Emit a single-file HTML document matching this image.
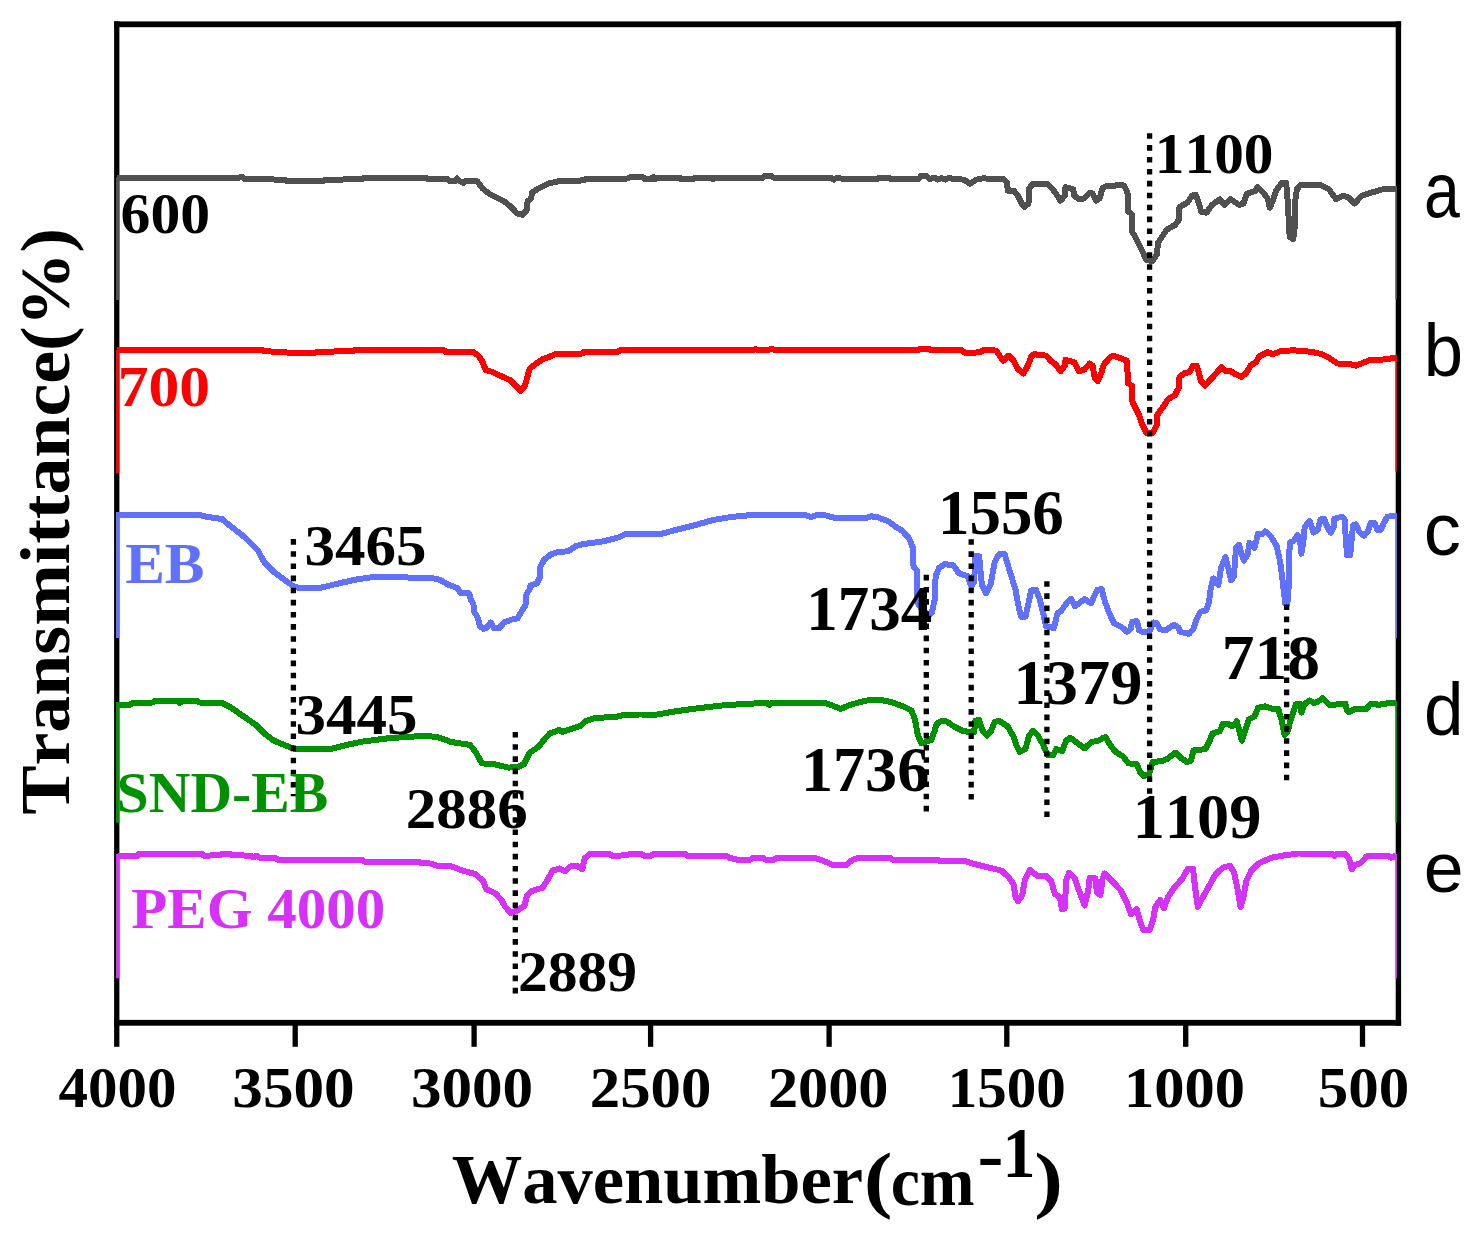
<!DOCTYPE html>
<html><head><meta charset="utf-8"><title>FTIR spectra</title>
<style>html,body{margin:0;padding:0;background:#fff}svg{display:block}text{white-space:pre;font-kerning:none}</style></head>
<body>
<svg width="1474" height="1236" viewBox="0 0 1474 1236">
<rect width="1474" height="1236" fill="#fff"/>
<g fill="#000">
<rect x="114.1" y="21.4" width="5.3" height="1025.4"/>
<rect x="114.1" y="21.4" width="1287" height="5.8"/>
<rect x="1395.7" y="21.4" width="5.4" height="1004.3"/>
<rect x="114.1" y="1019.9" width="1287" height="5.8"/>
<rect x="292.55" y="1024" width="5.3" height="22.8"/>
<rect x="471.45" y="1024" width="5.3" height="22.8"/>
<rect x="647.95" y="1024" width="5.3" height="22.8"/>
<rect x="826.45" y="1024" width="5.3" height="22.8"/>
<rect x="1004.15" y="1024" width="5.3" height="22.8"/>
<rect x="1183.05" y="1024" width="5.3" height="22.8"/>
<rect x="1359.85" y="1024" width="5.3" height="22.8"/>
</g>
<defs><clipPath id="plot"><rect x="116" y="27" width="1281.2" height="993"/></clipPath></defs>
<g clip-path="url(#plot)">
<rect x="116" y="177.5" width="3.4" height="122.5" fill="#505050"/>
<rect x="1395.4" y="186.0" width="1.8" height="113.4" fill="#505050"/>
<path d="M117.0 177.5 L239.8 177.5 L242.0 176.8 L244.3 179.0 L284.6 179.7 L286.9 181.3 L322.7 181.3 L324.9 179.7 L361.8 179.3 L364.1 177.5 L425.6 177.5 L427.9 179.0 L430.0 179.2 L447.8 179.2 L449.9 181.4 L454.9 181.4 L457.1 178.5 L459.9 181.4 L463.5 182.8 L465.6 181.1 L477.0 181.1 L482.7 188.5 L489.8 194.2 L504.1 201.3 L511.2 207.0 L516.9 213.4 L522.6 214.9 L526.9 209.9 L527.6 201.3 L531.2 198.5 L531.9 192.8 L538.3 188.5 L548.3 183.5 L558.2 181.4 L583.2 180.4 L585.3 179.2 L628.0 178.5 L630.9 176.8 L640.0 176.8 L643.8 177.6 L645.0 179.1 L651.3 179.1 L653.1 177.1 L655.1 179.1 L658.9 177.6 L680.2 178.1 L681.5 179.3 L692.7 179.3 L695.3 177.6 L710.3 177.6 L712.8 179.3 L715.3 177.6 L763.0 177.6 L765.5 175.6 L770.6 175.6 L773.1 177.6 L830.8 177.6 L833.8 179.6 L837.1 177.6 L843.4 179.1 L877.2 179.1 L879.7 177.6 L888.5 177.6 L891.0 179.1 L918.7 179.1 L921.2 175.6 L926.2 175.6 L929.9 179.1 L935.0 177.6 L937.5 179.6 L941.2 178.1 L945.8 179.6 L948.8 177.6 L953.8 179.1 L963.8 179.6 L970.1 183.8 L976.4 179.6 L983.9 178.1 L990.0 179.2 L1003.5 179.2 L1007.1 182.8 L1007.8 190.6 L1013.5 190.6 L1017.8 195.6 L1022.1 204.2 L1024.2 207.0 L1028.5 203.5 L1029.2 188.5 L1032.7 183.5 L1047.0 183.5 L1052.7 189.2 L1056.3 194.2 L1060.5 200.6 L1064.8 195.6 L1065.5 187.1 L1073.3 189.2 L1074.1 195.6 L1079.0 199.2 L1084.0 198.5 L1089.7 192.8 L1092.6 193.5 L1096.1 200.6 L1099.7 198.5 L1102.6 187.8 L1108.3 185.6 L1123.9 185.4 L1127.5 192.8 L1128.2 211.3 L1131.8 214.1 L1131.8 231.2 L1135.3 236.9 L1138.9 244.1 L1142.4 251.2 L1146.0 259.7 L1152.4 261.2 L1156.7 254.7 L1158.1 242.6 L1162.4 236.2 L1166.7 229.8 L1175.2 224.8 L1178.8 219.8 L1179.5 207.0 L1187.3 202.7 L1192.3 195.6 L1195.9 194.9 L1197.8 199.9 L1201.4 212.0 L1206.4 212.7 L1212.1 204.9 L1219.9 199.2 L1224.2 204.9 L1230.6 199.2 L1239.2 204.9 L1243.4 203.5 L1247.0 193.5 L1254.8 191.3 L1257.7 187.1 L1263.4 192.8 L1267.7 198.5 L1269.8 207.7 L1272.6 201.3 L1276.2 190.6 L1281.9 182.8 L1286.2 182.8 L1287.6 199.9 L1289.7 236.9 L1293.3 239.1 L1294.7 227.0 L1295.4 199.9 L1296.9 189.2 L1300.4 184.9 L1320.4 184.9 L1328.9 189.2 L1333.9 196.3 L1336.0 199.2 L1343.2 195.6 L1348.9 197.8 L1354.6 203.5 L1361.7 195.6 L1373.1 192.1 L1383.1 189.2 L1396.0 189.2" fill="none" stroke="#505050" stroke-width="6" stroke-linejoin="round" stroke-linecap="butt" shape-rendering="crispEdges"/>
<rect x="116" y="350.0" width="3.4" height="123.0" fill="#ff0000"/>
<rect x="1395.4" y="355.0" width="1.8" height="116.6" fill="#ff0000"/>
<path d="M117.0 349.7 L262.2 349.7 L264.5 351.3 L284.6 351.9 L289.1 353.0 L314.8 353.0 L317.1 351.7 L352.9 351.3 L355.1 349.7 L430.0 350.0 L444.2 350.4 L445.7 352.1 L473.5 352.1 L478.4 355.7 L482.7 362.1 L485.6 369.9 L492.7 372.0 L499.8 375.6 L509.8 379.9 L515.5 385.6 L520.5 390.6 L524.7 386.3 L527.6 376.3 L529.7 368.5 L535.4 364.2 L542.6 359.2 L551.1 356.1 L555.4 354.2 L582.4 353.5 L583.9 352.1 L618.1 351.8 L620.2 350.0 L640.0 350.0 L753.0 350.1 L755.5 349.0 L758.0 350.1 L768.0 350.1 L771.8 348.6 L775.0 350.1 L918.0 350.1 L920.0 348.6 L929.0 348.6 L931.0 350.1 L962.0 350.4 L965.0 352.8 L980.0 352.4 L983.0 350.4 L990.0 350.0 L996.4 350.7 L1000.0 356.4 L1003.5 360.6 L1008.5 355.7 L1013.5 360.6 L1017.8 369.2 L1023.5 373.5 L1027.8 365.6 L1031.3 356.4 L1034.2 354.2 L1046.3 355.7 L1051.3 361.4 L1055.5 364.2 L1060.5 371.3 L1064.8 365.6 L1065.5 359.9 L1074.1 362.1 L1079.0 371.3 L1084.0 369.9 L1089.7 363.5 L1092.6 365.6 L1094.7 377.7 L1097.6 381.3 L1101.1 373.5 L1104.0 364.2 L1111.1 356.4 L1115.4 356.4 L1126.8 360.6 L1128.2 383.4 L1131.8 385.6 L1132.5 402.0 L1138.9 414.8 L1142.4 424.8 L1146.7 433.3 L1153.1 432.6 L1156.7 424.8 L1157.4 414.8 L1164.5 404.8 L1168.1 399.1 L1175.2 394.8 L1178.8 387.7 L1179.5 377.0 L1183.8 373.5 L1189.5 372.0 L1193.0 365.6 L1196.6 365.6 L1198.6 372.0 L1200.7 380.6 L1205.0 385.6 L1213.5 376.3 L1221.4 367.1 L1225.6 371.3 L1229.9 370.6 L1234.2 373.5 L1241.3 377.0 L1246.3 372.8 L1250.6 365.6 L1256.3 362.1 L1259.1 356.4 L1267.7 352.1 L1272.6 354.2 L1281.9 350.7 L1294.7 350.4 L1311.8 351.8 L1321.8 354.2 L1328.9 357.8 L1337.5 363.5 L1350.3 364.2 L1356.0 365.6 L1363.1 362.8 L1370.2 359.9 L1383.1 359.5 L1396.0 357.8" fill="none" stroke="#ff0000" stroke-width="6" stroke-linejoin="round" stroke-linecap="butt" shape-rendering="crispEdges"/>
<rect x="116" y="514.8" width="3.4" height="123.2" fill="#6070ff"/>
<rect x="1395.4" y="513.0" width="1.8" height="125.0" fill="#6070ff"/>
<path d="M116.0 514.6 L150.3 514.6 L199.5 514.8 L206.3 516.8 L221.9 519.0 L228.6 524.6 L244.3 536.9 L257.8 550.4 L264.5 562.7 L273.4 571.6 L286.9 581.7 L293.6 586.2 L300.3 588.4 L318.2 588.4 L336.1 584.0 L356.3 579.5 L371.9 577.2 L430.0 577.7 L440.0 579.8 L448.5 584.8 L457.8 588.3 L460.6 593.3 L469.2 593.3 L470.6 599.0 L473.5 604.7 L474.2 611.9 L477.7 617.6 L479.9 626.1 L483.4 629.0 L487.0 627.5 L490.6 622.5 L494.1 628.2 L499.1 628.2 L504.1 622.5 L511.2 619.7 L517.6 618.3 L521.2 611.9 L525.5 605.4 L526.2 594.8 L529.7 589.1 L530.4 585.5 L536.9 583.4 L539.7 577.7 L540.4 567.0 L544.0 559.9 L551.1 554.2 L558.2 552.0 L568.2 551.3 L575.3 546.3 L582.4 544.2 L603.8 541.3 L619.5 537.1 L625.2 534.2 L640.0 534.2 L661.4 533.9 L675.2 530.1 L695.3 525.1 L712.8 520.1 L730.4 517.1 L750.5 515.1 L805.7 515.1 L810.7 517.1 L817.0 515.1 L824.5 515.1 L835.8 518.1 L865.9 518.1 L871.0 516.3 L877.2 517.1 L888.5 521.4 L895.0 526.4 L902.1 530.6 L909.2 538.5 L912.8 547.7 L913.5 566.3 L917.1 571.2 L917.1 601.9 L922.0 610.0 L929.2 614.7 L932.0 611.9 L934.9 599.0 L935.6 576.2 L939.2 567.7 L944.9 564.1 L953.4 565.5 L959.1 573.4 L967.7 576.2 L971.2 586.2 L974.1 581.9 L975.5 556.3 L979.1 556.3 L981.9 584.8 L986.2 593.3 L990.5 584.8 L994.7 562.0 L999.0 554.2 L1004.7 554.2 L1008.3 566.3 L1011.8 577.7 L1015.4 589.1 L1018.2 604.7 L1021.1 616.8 L1025.4 616.8 L1028.2 604.7 L1031.1 590.5 L1036.0 589.8 L1039.6 599.0 L1043.2 613.3 L1046.0 626.1 L1053.9 628.2 L1057.4 613.3 L1061.0 611.1 L1067.4 601.9 L1071.0 599.0 L1075.2 606.2 L1084.5 599.0 L1090.9 603.3 L1097.3 589.8 L1101.6 589.1 L1105.0 601.9 L1109.3 613.3 L1114.2 623.3 L1121.4 626.8 L1127.1 631.8 L1130.6 629.0 L1132.1 621.8 L1137.0 621.1 L1139.2 630.4 L1144.2 632.5 L1149.2 631.8 L1153.4 622.5 L1157.0 623.3 L1159.8 629.0 L1165.5 630.4 L1174.1 624.7 L1178.4 627.5 L1179.8 631.8 L1189.0 633.9 L1193.3 629.0 L1196.2 620.4 L1200.4 611.9 L1206.1 610.4 L1209.0 601.9 L1210.4 590.5 L1213.3 578.4 L1218.3 584.8 L1221.1 567.7 L1225.4 557.0 L1228.2 567.7 L1231.1 580.5 L1233.9 576.2 L1236.1 547.7 L1238.9 544.9 L1243.9 560.6 L1247.5 554.9 L1249.6 542.8 L1254.6 547.7 L1258.1 533.5 L1262.4 534.2 L1265.3 531.4 L1270.3 535.6 L1276.7 546.3 L1280.2 562.0 L1282.4 579.1 L1285.2 603.3 L1287.4 603.3 L1288.8 584.8 L1289.0 554.9 L1290.2 542.3 L1294.1 540.7 L1297.3 535.0 L1299.8 538.3 L1301.4 553.7 L1303.4 540.7 L1304.7 526.9 L1309.5 520.8 L1313.6 532.6 L1317.7 530.1 L1320.5 519.5 L1324.2 519.1 L1327.9 528.5 L1330.7 532.6 L1334.0 526.1 L1334.4 518.7 L1342.1 516.7 L1344.5 518.7 L1345.4 532.6 L1347.0 555.4 L1350.2 555.4 L1351.9 536.6 L1353.1 525.2 L1355.9 524.4 L1359.2 531.8 L1364.1 535.8 L1368.2 530.9 L1370.6 522.8 L1374.7 523.2 L1377.5 530.1 L1380.4 530.1 L1384.4 522.0 L1387.3 516.7 L1396.0 515.9" fill="none" stroke="#6070ff" stroke-width="6" stroke-linejoin="round" stroke-linecap="butt" shape-rendering="crispEdges"/>
<rect x="116" y="704.8" width="3.4" height="117.9" fill="#009100"/>
<rect x="1395.4" y="701.0" width="1.8" height="121.7" fill="#009100"/>
<path d="M116.0 705.2 L130.1 704.8 L132.4 703.0 L152.5 702.5 L154.8 701.2 L178.3 701.2 L179.8 703.0 L181.6 701.2 L197.3 701.2 L199.5 702.5 L221.9 703.0 L230.9 707.5 L244.3 716.9 L255.5 724.7 L264.5 733.7 L273.4 740.4 L286.9 746.0 L295.8 749.3 L329.4 749.3 L347.3 744.8 L363.0 741.5 L389.8 738.1 L423.4 735.9 L430.0 736.3 L437.1 737.0 L451.4 742.0 L469.9 744.9 L475.6 752.0 L482.0 763.4 L494.1 764.1 L508.4 767.6 L518.3 766.9 L524.0 764.1 L529.7 752.7 L538.3 747.0 L544.0 739.9 L549.7 733.5 L559.6 729.9 L562.5 732.0 L581.0 725.6 L585.3 721.3 L595.3 717.8 L615.2 717.1 L623.8 714.9 L640.0 714.5 L656.4 714.6 L675.2 711.4 L692.7 708.9 L725.4 705.1 L758.0 703.3 L766.8 702.6 L769.3 705.1 L771.8 703.1 L825.8 703.1 L833.3 705.9 L840.8 708.9 L850.9 704.6 L865.9 700.6 L879.7 699.6 L891.0 702.1 L895.0 703.5 L903.5 706.4 L911.4 710.6 L914.9 719.2 L917.8 734.9 L921.4 743.4 L925.6 742.0 L931.3 739.9 L934.2 732.0 L937.0 723.5 L942.0 720.6 L946.3 721.3 L954.8 727.0 L962.0 730.6 L969.1 732.0 L974.1 732.0 L975.5 720.6 L979.1 719.9 L982.6 730.6 L986.9 735.6 L991.2 730.6 L994.7 722.0 L999.0 720.6 L1007.6 726.3 L1013.3 736.3 L1016.8 746.3 L1019.7 752.0 L1025.4 749.1 L1028.9 736.3 L1033.2 730.6 L1037.5 734.9 L1043.2 744.8 L1047.4 754.8 L1053.1 755.5 L1056.0 749.1 L1062.4 751.2 L1066.0 740.6 L1070.2 737.7 L1075.9 742.0 L1084.5 748.4 L1091.6 742.0 L1098.7 740.6 L1102.0 738.5 L1105.7 737.0 L1110.0 744.8 L1115.7 752.0 L1122.8 756.2 L1128.5 763.4 L1137.0 764.1 L1139.9 771.9 L1144.2 776.2 L1149.2 774.0 L1152.7 761.9 L1161.3 761.2 L1167.0 759.1 L1175.5 752.7 L1180.5 757.7 L1186.9 761.9 L1191.2 760.5 L1193.3 750.5 L1199.7 749.8 L1205.4 749.1 L1209.7 740.6 L1212.6 733.4 L1219.7 731.3 L1223.2 723.5 L1228.2 724.2 L1232.5 726.3 L1236.8 721.3 L1239.6 732.0 L1241.8 740.6 L1244.6 732.0 L1248.9 719.2 L1254.6 716.3 L1258.1 707.8 L1265.3 706.4 L1271.0 708.5 L1278.1 708.5 L1281.7 720.6 L1284.5 734.9 L1288.1 730.6 L1290.0 722.0 L1293.3 712.6 L1295.7 704.4 L1299.8 703.6 L1301.4 712.6 L1304.2 704.4 L1309.5 700.4 L1314.4 703.2 L1318.5 701.2 L1322.6 698.3 L1326.6 702.0 L1329.1 704.8 L1338.8 704.4 L1345.4 703.6 L1347.0 710.1 L1349.4 712.2 L1354.3 709.3 L1366.5 708.9 L1370.6 703.6 L1375.5 703.6 L1377.9 705.2 L1383.6 703.6 L1396.0 703.2" fill="none" stroke="#009100" stroke-width="6" stroke-linejoin="round" stroke-linecap="butt" shape-rendering="crispEdges"/>
<rect x="116" y="858.0" width="3.4" height="120.3" fill="#d730fa"/>
<rect x="1395.4" y="854.0" width="1.8" height="124.3" fill="#d730fa"/>
<path d="M116.0 857.5 L120.0 856.1 L138.0 855.7 L139.1 853.9 L201.8 853.9 L204.0 855.7 L219.7 855.2 L221.9 853.9 L229.8 853.9 L232.0 855.2 L251.0 855.7 L253.3 857.5 L256.6 855.7 L258.9 857.5 L275.7 857.9 L277.9 859.7 L361.8 859.7 L364.1 861.5 L418.9 861.5 L421.2 863.3 L430.0 863.5 L437.1 865.6 L451.4 866.4 L462.8 870.6 L475.6 874.2 L483.4 881.3 L486.3 889.2 L495.5 893.4 L501.2 899.8 L505.5 907.0 L510.5 912.7 L517.6 910.5 L524.7 905.5 L526.9 895.6 L531.2 891.3 L542.6 887.7 L548.3 878.5 L552.5 870.6 L559.6 868.5 L565.3 871.3 L570.3 866.4 L578.2 866.4 L582.4 869.2 L584.6 858.5 L589.6 854.2 L609.5 854.2 L612.4 855.7 L626.6 855.4 L629.5 854.0 L640.0 854.0 L641.3 853.8 L643.8 855.6 L651.3 855.6 L653.1 854.1 L685.2 854.1 L687.7 855.9 L726.6 855.9 L729.1 857.6 L736.7 859.6 L750.5 859.6 L753.0 857.6 L763.0 857.6 L765.5 859.6 L774.3 859.6 L776.8 857.6 L814.5 857.6 L824.5 861.4 L833.3 865.1 L845.9 865.1 L852.1 860.1 L858.4 857.6 L889.8 857.6 L892.3 859.6 L937.5 859.6 L940.0 861.4 L966.3 861.4 L976.4 864.6 L990.0 867.8 L1001.4 870.6 L1008.5 877.0 L1013.5 884.2 L1015.6 897.0 L1017.8 901.3 L1022.1 895.6 L1024.9 879.9 L1029.9 869.9 L1037.0 875.6 L1045.6 875.6 L1051.3 881.3 L1054.8 894.1 L1059.8 897.0 L1061.9 909.1 L1064.8 908.4 L1066.2 879.9 L1069.1 872.8 L1074.8 878.5 L1079.8 892.7 L1084.7 905.5 L1088.3 889.9 L1089.7 877.8 L1095.4 878.5 L1096.9 892.7 L1100.4 894.9 L1102.6 878.5 L1104.7 873.5 L1111.1 879.9 L1120.4 889.9 L1126.8 902.7 L1131.0 914.1 L1136.7 909.1 L1139.6 919.8 L1143.2 929.8 L1149.6 929.8 L1153.1 919.8 L1155.3 907.0 L1160.3 899.8 L1163.8 908.4 L1168.1 897.0 L1173.8 888.4 L1182.3 878.5 L1188.0 868.5 L1193.0 868.5 L1195.0 887.0 L1197.8 907.0 L1201.4 899.8 L1208.5 887.0 L1215.6 874.2 L1222.8 867.8 L1229.9 865.6 L1234.2 872.8 L1237.7 889.9 L1240.6 907.0 L1243.4 897.0 L1246.3 881.3 L1251.3 870.6 L1258.4 863.5 L1271.2 857.8 L1284.0 855.4 L1298.3 853.5 L1332.5 853.8 L1334.6 856.0 L1336.7 853.8 L1345.3 853.8 L1348.9 858.5 L1351.7 869.2 L1355.3 864.9 L1361.0 862.8 L1366.7 856.4 L1388.0 856.1 L1390.9 857.8 L1396.0 855.7" fill="none" stroke="#d730fa" stroke-width="6" stroke-linejoin="round" stroke-linecap="butt" shape-rendering="crispEdges"/>
</g>
<line x1="293.4" y1="539.1" x2="293.4" y2="796.2" stroke="#000" stroke-width="5.3" stroke-dasharray="5.6 6.543"/>
<line x1="515.3" y1="732" x2="515.3" y2="993.4" stroke="#000" stroke-width="5.3" stroke-dasharray="5.6 6.581"/>
<line x1="926.3" y1="574.8" x2="926.3" y2="811.4" stroke="#000" stroke-width="5.3" stroke-dasharray="5.6 6.558"/>
<line x1="971.2" y1="539.2" x2="971.2" y2="799.6" stroke="#000" stroke-width="5.3" stroke-dasharray="5.6 6.533"/>
<line x1="1046.9" y1="581.2" x2="1046.9" y2="817.1" stroke="#000" stroke-width="5.3" stroke-dasharray="5.6 6.521"/>
<line x1="1149.6" y1="133.2" x2="1149.6" y2="793.8" stroke="#000" stroke-width="5.3" stroke-dasharray="5.6 6.309"/>
<line x1="1286.6" y1="604.4" x2="1286.6" y2="780.3" stroke="#000" stroke-width="5.3" stroke-dasharray="5.6 6.564"/>
<text transform="translate(120.57 233.45) scale(1.0650 1)" font-family="'Liberation Serif', serif" font-weight="bold" font-size="56.00" fill="#000">600</text>
<text transform="translate(117.70 406.25) scale(1.1000 1)" font-family="'Liberation Serif', serif" font-weight="bold" font-size="56.00" fill="#ff0000">700</text>
<text transform="translate(125.14 582.90) scale(1.0625 1)" font-family="'Liberation Serif', serif" font-weight="bold" font-size="56.00" fill="#6070ff">EB</text>
<text transform="translate(116.61 811.70) scale(1.0308 1)" font-family="'Liberation Serif', serif" font-weight="bold" font-size="56.00" fill="#009100">SND-EB</text>
<text transform="translate(131.25 927.90) scale(1.0538 1)" font-family="'Liberation Serif', serif" font-weight="bold" font-size="56.00" fill="#d730fa">PEG 4000</text>
<text transform="translate(304.52 565.15) scale(1.0898 1)" font-family="'Liberation Serif', serif" font-weight="bold" font-size="56.00" fill="#000">3465</text>
<text transform="translate(295.52 733.75) scale(1.0889 1)" font-family="'Liberation Serif', serif" font-weight="bold" font-size="56.00" fill="#000">3445</text>
<text transform="translate(405.82 827.95) scale(1.0880 1)" font-family="'Liberation Serif', serif" font-weight="bold" font-size="56.00" fill="#000">2886</text>
<text transform="translate(517.97 990.80) scale(1.0639 1)" font-family="'Liberation Serif', serif" font-weight="bold" font-size="56.00" fill="#000">2889</text>
<text transform="translate(806.26 629.80) scale(0.9884 1)" font-family="'Liberation Serif', serif" font-weight="bold" font-size="63.75" fill="#000">1734</text>
<text transform="translate(938.03 533.70) scale(0.9942 1)" font-family="'Liberation Serif', serif" font-weight="bold" font-size="63.25" fill="#000">1556</text>
<text transform="translate(1013.61 704.40) scale(1.0176 1)" font-family="'Liberation Serif', serif" font-weight="bold" font-size="63.25" fill="#000">1379</text>
<text transform="translate(800.90 790.65) scale(1.0193 1)" font-family="'Liberation Serif', serif" font-weight="bold" font-size="63.00" fill="#000">1736</text>
<text transform="translate(1221.76 678.70) scale(1.0348 1)" font-family="'Liberation Serif', serif" font-weight="bold" font-size="63.25" fill="#000">718</text>
<text transform="translate(1132.65 837.80) scale(1.0092 1)" font-family="'Liberation Serif', serif" font-weight="bold" font-size="63.75" fill="#000">1109</text>
<text transform="translate(1154.87 172.90) scale(1.0585 1)" font-family="'Liberation Serif', serif" font-weight="bold" font-size="56.00" fill="#000">1100</text>
<text transform="translate(1423.93 217.30) scale(0.8250 1)" font-family="'Liberation Sans', sans-serif" font-weight="normal" font-size="78.00" fill="#000">a</text>
<text transform="translate(1423.79 375.80) scale(0.9412 1)" font-family="'Liberation Sans', sans-serif" font-weight="normal" font-size="75.00" fill="#000">b</text>
<text transform="translate(1423.80 554.75) scale(1.0000 1)" font-family="'Liberation Sans', sans-serif" font-weight="normal" font-size="74.25" fill="#000">c</text>
<text transform="translate(1423.89 735.05) scale(0.9697 1)" font-family="'Liberation Sans', sans-serif" font-weight="normal" font-size="73.25" fill="#000">d</text>
<text transform="translate(1423.78 892.40) scale(1.0061 1)" font-family="'Liberation Sans', sans-serif" font-weight="normal" font-size="71.25" fill="#000">e</text>
<text transform="translate(58.55 1106.70) scale(1.0523 1)" font-family="'Liberation Serif', serif" font-weight="bold" font-size="56.00" fill="#000">4000</text>
<text transform="translate(232.31 1106.65) scale(1.0926 1)" font-family="'Liberation Serif', serif" font-weight="bold" font-size="56.00" fill="#000">3500</text>
<text transform="translate(410.92 1106.65) scale(1.0917 1)" font-family="'Liberation Serif', serif" font-weight="bold" font-size="56.00" fill="#000">3000</text>
<text transform="translate(589.83 1106.65) scale(1.0852 1)" font-family="'Liberation Serif', serif" font-weight="bold" font-size="56.00" fill="#000">2500</text>
<text transform="translate(767.95 1106.65) scale(1.0759 1)" font-family="'Liberation Serif', serif" font-weight="bold" font-size="56.00" fill="#000">2000</text>
<text transform="translate(947.78 1106.65) scale(1.0547 1)" font-family="'Liberation Serif', serif" font-weight="bold" font-size="56.00" fill="#000">1500</text>
<text transform="translate(1123.98 1106.65) scale(1.0802 1)" font-family="'Liberation Serif', serif" font-weight="bold" font-size="56.00" fill="#000">1000</text>
<text transform="translate(1317.72 1106.65) scale(1.0887 1)" font-family="'Liberation Serif', serif" font-weight="bold" font-size="56.00" fill="#000">500</text>
<text transform="translate(863.66 1204.40) scale(1.1789 1)" font-family="'Liberation Serif', serif" font-weight="bold" font-size="73.25" fill="#000">(</text>
<text transform="translate(890.63 1205.00) scale(0.9356 1)" font-family="'Liberation Serif', serif" font-weight="bold" font-size="70.25" fill="#000">cm</text>
<text transform="translate(977.38 1178.95) scale(1.0737 1)" font-family="'Liberation Serif', serif" font-weight="bold" font-size="72.75" fill="#000">-</text>
<text transform="translate(1002.38 1176.85) scale(0.9192 1)" font-family="'Liberation Serif', serif" font-weight="bold" font-size="71.75" fill="#000">1</text>
<text transform="translate(1034.24 1204.40) scale(1.1789 1)" font-family="'Liberation Serif', serif" font-weight="bold" font-size="73.25" fill="#000">)</text>
<text transform="translate(68.70 814.76) rotate(-90) scale(1.0558 1)" font-family="'Liberation Serif', serif" font-weight="bold" font-size="70" fill="#000">Transmittance(%)</text>
<text transform="translate(451.79 1203.25) scale(1.0076 1)" font-family="'Liberation Serif', serif" font-weight="bold" font-size="70" fill="#000">Wavenumber</text>
</svg>
</body></html>
